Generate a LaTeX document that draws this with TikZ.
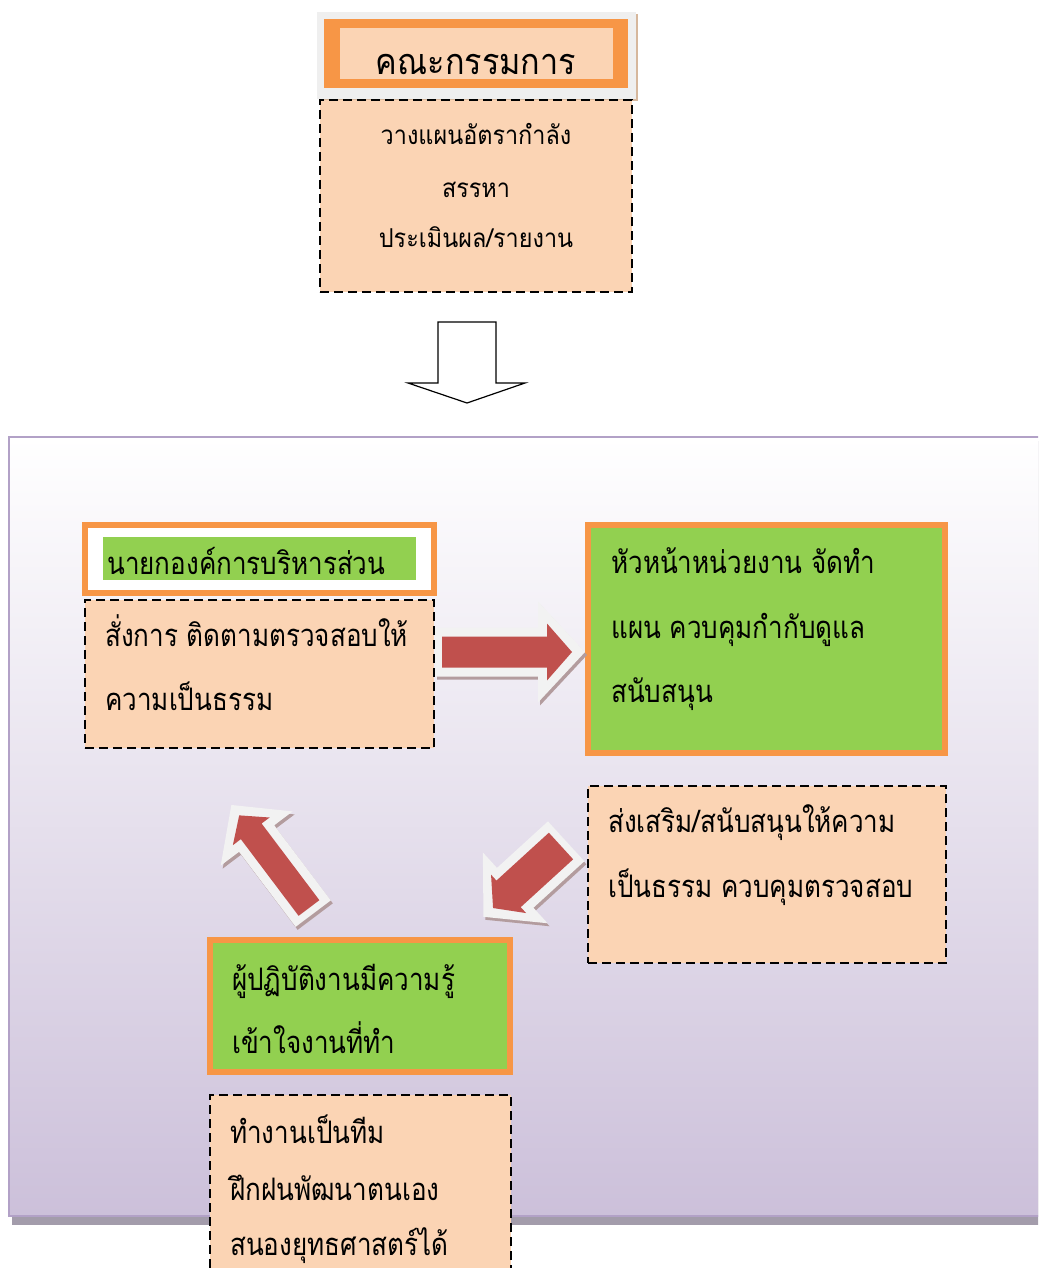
\documentclass[tikz,border=0pt]{standalone}
\usepackage{fontspec}
\newfontfamily\thaib[Script=Thai,FakeStretch=0.84]{Loma}
\newfontfamily\thait[Script=Thai,FakeStretch=0.9]{Loma}
\definecolor{orangeA}{HTML}{F79646}
\definecolor{peach}{HTML}{FBD4B4}
\definecolor{greenA}{HTML}{92D050}
\definecolor{redA}{HTML}{C0504D}
\definecolor{lavB}{HTML}{B2A1C7}
\definecolor{panelbot}{HTML}{CCC0DA}
\definecolor{arrowwhite}{HTML}{F2F2F2}
\definecolor{arrowshadow}{HTML}{B39C9E}
\definecolor{panelshadow}{HTML}{A39CAB}
\definecolor{topgray}{HTML}{EFEFEF}
\definecolor{topshadow}{HTML}{D6B79C}
% #1 length, #2 shaft half width, #3 head half width, #4 head length
\newcommand\arrcalc[4]{%
  \pgfmathsetmacro\arrL{#1}\pgfmathsetmacro\arrA{#2}%
  \pgfmathsetmacro\arrB{#3}\pgfmathsetmacro\arrH{#1-(#4)}}
\newcommand\arrpath{(0,-\arrA) -- (\arrH,-\arrA) -- (\arrH,-\arrB) -- (\arrL,0) -- (\arrH,\arrB) -- (\arrH,\arrA) -- (0,\arrA) -- cycle}
\newcommand\blockarr[7]{%
  \arrcalc{#4+20}{#5+9}{#6+22}{#7+22}%
  \begin{scope}[shift={(#1+2,#2+3)}, rotate=#3]
    \fill[arrowshadow] [shift={(-7,0)}] \arrpath;
  \end{scope}
  \begin{scope}[shift={(#1,#2)}, rotate=#3]
    \fill[arrowwhite] [shift={(-7,0)}] \arrpath;
  \end{scope}
  \arrcalc{#4}{#5}{#6}{#7}%
  \begin{scope}[shift={(#1,#2)}, rotate=#3]
    \fill[redA] \arrpath;
  \end{scope}}
\begin{document}
\begin{tikzpicture}[x=1pt,y=-1pt,
  dashbox/.style={draw=black, fill=peach, dash pattern=on 9pt off 5pt, line width=2.2pt, inner sep=0pt, outer sep=0pt, anchor=north west},
  greenbox/.style={draw=orangeA, fill=greenA, line width=6.5pt, inner sep=0pt, outer sep=0pt, anchor=north west},
  plainbox/.style={inner sep=0pt, outer sep=0pt, anchor=north west},
  txt/.style={font=\thaib\fontsize{31}{34}\selectfont, inner sep=0pt, anchor=base west},
  ctxt/.style={font=\thait\fontsize{26}{30}\selectfont, inner sep=0pt, anchor=base},
  ]
\useasboundingbox (0,0) rectangle (1038,1268);
\clip (0,0) rectangle (1038,1268);
% ---------------- top: committee
\node[plainbox, fill=topshadow, minimum width=319pt, minimum height=87pt] (tsh) at (319,14) {};
\node[plainbox, fill=topgray, minimum width=319pt, minimum height=87pt] (tout) at (317,12) {};
\node[plainbox, fill=orangeA, minimum width=304pt, minimum height=69pt] (torg) at (324,19) {};
\node[plainbox, fill=peach, minimum width=273pt, minimum height=51pt] (tin) at (340,28) {};
\node[font=\thait\fontsize{36}{40}\selectfont, inner sep=0pt, anchor=base] (title) at (476,75) {คณะกรรมการ};
\node[dashbox, minimum width=312pt, minimum height=192pt] (tbox) at (320,100) {};
\node[ctxt] (t1) at (476,145) {วางแผนอัตรากำลัง};
\node[ctxt] (t2) at (476,197) {สรรหา};
\node[ctxt] (t3) at (476,247) {ประเมินผล/รายงาน};
% ---------------- down arrow
\draw[fill=white, line width=1.2pt, line join=miter]
  (438,322) -- (496,322) -- (496,383) -- (525,383) -- (467,403) -- (408,383) -- (438,383) -- cycle;
% ---------------- panel
\fill[panelshadow] (12,441) rectangle (1050,1225);
\shade[top color=white, bottom color=panelbot] (9,437) rectangle (1045,1216);
\draw[lavB, line width=2.5pt] (9,437) rectangle (1045,1216);
% ---------------- box A
\node[plainbox, draw=orangeA, fill=white, line width=6.5pt, minimum width=349pt, minimum height=68pt] (aframe) at (85,525) {};
\node[plainbox, fill=greenA, minimum width=313pt, minimum height=43pt] (ahl) at (103,537) {};
\node[txt] (atitle) at (107,574) {นายกองค์การบริหารส่วน};
\node[dashbox, minimum width=349pt, minimum height=148pt] (abox) at (85,600) {};
\node[txt] (a1) at (105,646) {สั่งการ ติดตามตรวจสอบให้};
\node[txt] (a2) at (105,710) {ความเป็นธรรม};
% ---------------- box B
\node[greenbox, minimum width=357pt, minimum height=228pt] (bbox) at (588,525) {};
\node[txt] (b1) at (611,573) {หัวหน้าหน่วยงาน จัดทำ};
\node[txt] (b2) at (611,638) {แผน ควบคุมกำกับดูแล};
\node[txt] (b3) at (611,702) {สนับสนุน};
% ---------------- box C
\node[dashbox, minimum width=358pt, minimum height=177pt] (cbox) at (588,786) {};
\node[txt] (c1) at (608,832) {ส่งเสริม/สนับสนุนให้ความ};
\node[txt] (c2) at (608,897) {เป็นธรรม ควบคุมตรวจสอบ};
% ---------------- box D
\node[greenbox, minimum width=300pt, minimum height=132pt] (dbox) at (210,940) {};
\node[txt] (d1) at (232,990) {ผู้ปฏิบัติงานมีความรู้};
\node[txt] (d2) at (232,1053) {เข้าใจงานที่ทำ};
% ---------------- box E
\node[dashbox, minimum width=301pt, minimum height=200pt] (ebox) at (210,1095) {};
\node[txt] (e1) at (230,1143) {ทำงานเป็นทีม};
\node[txt] (e2) at (230,1200) {ฝึกฝนพัฒนาตนเอง};
\node[txt] (e3) at (230,1255) {สนองยุทธศาสตร์ได้};
% ---------------- block arrows
\blockarr{442}{652}{0}{130}{15.5}{28.5}{25}
\blockarr{561}{846}{222.4}{92}{18}{26}{21}
\blockarr{309}{908}{127}{116}{13}{23}{20}
\end{tikzpicture}
\end{document}
